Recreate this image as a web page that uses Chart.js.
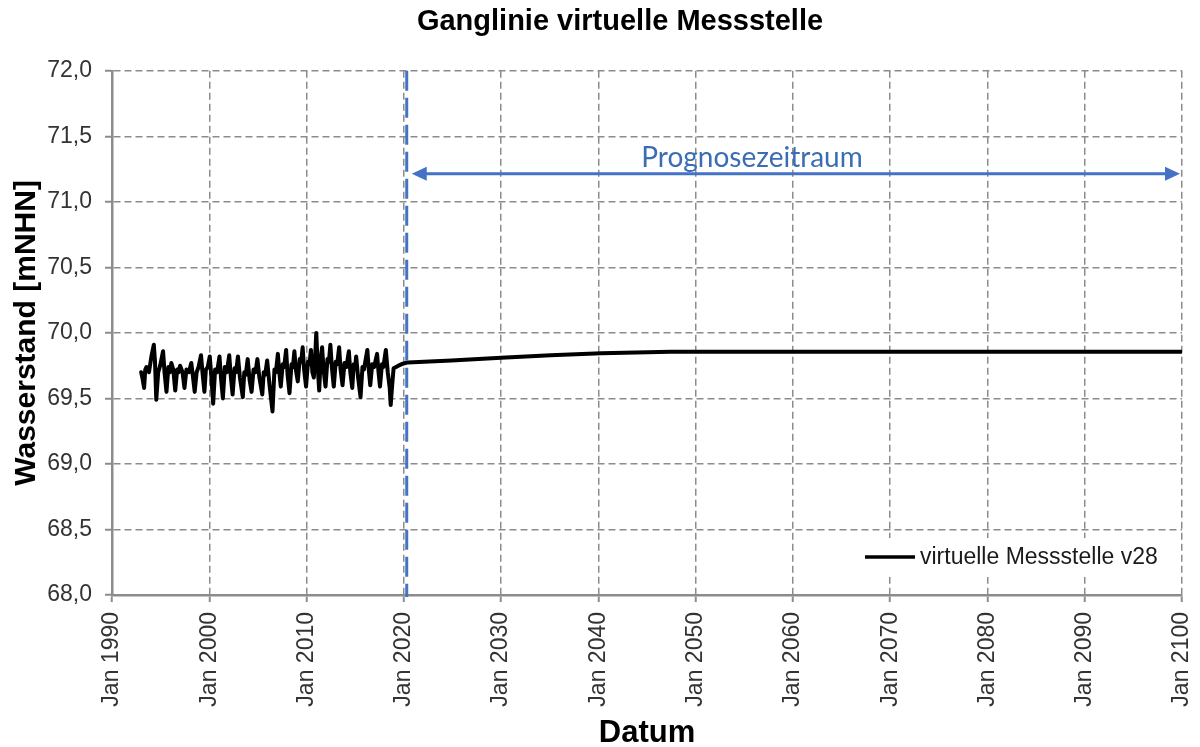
<!DOCTYPE html>
<html>
<head>
<meta charset="utf-8">
<script src="https://cdn.jsdelivr.net/npm/chart.js@4/dist/chart.umd.min.js"></script>
<style>
  html, body { margin: 0; padding: 0; background: #ffffff; }
  #wrap { width: 1200px; height: 747px; position: relative; }
</style>
</head>
<body>
<div id="wrap"><canvas id="c" width="1200" height="747"></canvas></div>
<script>
// ---- data ----
const histYears = [
  1993.00, 1993.12, 1993.30, 1993.42, 1993.55, 1993.80, 1994.05, 1994.30, 1994.42, 1994.55,
  1994.75, 1994.95, 1995.25, 1995.40, 1995.60, 1995.80, 1995.95, 1996.10, 1996.30, 1996.50,
  1996.70, 1996.85, 1997.00, 1997.25, 1997.45, 1997.65, 1997.90, 1998.15, 1998.30, 1998.50,
  1998.70, 1998.90, 1999.15, 1999.30, 1999.50, 1999.65, 1999.85, 2000.05, 2000.20, 2000.40,
  2000.60, 2000.80, 2001.05, 2001.20, 2001.40, 2001.60, 2001.80, 2002.05, 2002.20, 2002.40,
  2002.60, 2002.75, 2002.95, 2003.15, 2003.45, 2003.60, 2003.75, 2003.95, 2004.15, 2004.35,
  2004.55, 2004.75, 2004.95, 2005.15, 2005.45, 2005.60, 2005.75, 2005.95, 2006.20, 2006.50,
  2006.70, 2006.85, 2007.05, 2007.20, 2007.35, 2007.55, 2007.70, 2007.90, 2008.05, 2008.25,
  2008.45, 2008.60, 2008.75, 2008.90, 2009.10, 2009.30, 2009.45, 2009.60, 2009.75, 2009.95,
  2010.15, 2010.30, 2010.45, 2010.60, 2010.75, 2010.90, 2011.00, 2011.15, 2011.30, 2011.45,
  2011.60, 2011.75, 2011.95, 2012.15, 2012.30, 2012.45, 2012.60, 2012.80, 2013.00, 2013.15,
  2013.35, 2013.50, 2013.70, 2013.90, 2014.10, 2014.35, 2014.50, 2014.70, 2014.85, 2015.00,
  2015.10, 2015.30, 2015.55, 2015.75, 2015.90, 2016.25, 2016.40, 2016.55, 2016.75, 2016.95,
  2017.25, 2017.40, 2017.55, 2017.75, 2017.90, 2018.15, 2018.35, 2018.55, 2018.65, 2018.80,
  2018.95, 2019.45, 2019.90];
const histLevels = [
  69.70, 69.66, 69.58, 69.72, 69.74, 69.70, 69.82, 69.91, 69.78, 69.49,
  69.70, 69.75, 69.86, 69.70, 69.55, 69.74, 69.70, 69.77, 69.72, 69.56,
  69.72, 69.70, 69.75, 69.70, 69.58, 69.72, 69.70, 69.77, 69.68, 69.55,
  69.70, 69.74, 69.83, 69.70, 69.55, 69.72, 69.74, 69.82, 69.68, 69.46,
  69.72, 69.70, 69.82, 69.66, 69.50, 69.74, 69.70, 69.83, 69.68, 69.53,
  69.73, 69.70, 69.82, 69.66, 69.51, 69.70, 69.68, 69.80, 69.64, 69.55,
  69.72, 69.70, 69.80, 69.66, 69.53, 69.70, 69.68, 69.79, 69.60, 69.40,
  69.72, 69.70, 69.84, 69.70, 69.59, 69.76, 69.74, 69.87, 69.68, 69.54,
  69.76, 69.74, 69.86, 69.72, 69.63, 69.80, 69.78, 69.89, 69.72, 69.59,
  69.78, 69.76, 69.87, 69.70, 69.66, 69.84, 70.00, 69.74, 69.56, 69.80,
  69.89, 69.72, 69.59, 69.80, 69.78, 69.91, 69.74, 69.59, 69.78, 69.76,
  69.89, 69.72, 69.60, 69.77, 69.74, 69.86, 69.70, 69.58, 69.76, 69.74,
  69.82, 69.66, 69.51, 69.74, 69.72, 69.87, 69.72, 69.60, 69.76, 69.74,
  69.84, 69.70, 69.59, 69.76, 69.74, 69.87, 69.70, 69.58, 69.45, 69.60,
  69.73, 69.75, 69.765];
const progYears = [2020.4, 2024.9, 2030.0, 2035.1, 2040.3, 2047.4, 2060.0, 2080.0, 2100.0];
const progLevels = [69.775, 69.79, 69.81, 69.83, 69.845, 69.856, 69.856, 69.856, 69.856];

const seriesLabel = 'virtuelle Messstelle v28';
const yTicksMin = 68.0, yTicksMax = 72.0, yStep = 0.5;
const xTicksMin = 1990, xTicksMax = 2100, xStep = 10;
const prognoseStart = 2020.3;
const prognoseLevel = 71.214;
const prognoseText = 'Prognosezeitraum';

const points = histYears.map((x, i) => ({ x: x, y: histLevels[i] }))
  .concat(progYears.map((x, i) => ({ x: x, y: progLevels[i] })));

const gridColor = '#8c8c8c';
const blue = '#4472C4';
const FONT = '"Liberation Sans", Arial, sans-serif';

const overlay = {
  id: 'overlay',
  afterLayout(chart) {
    // centre the title like the reference (slightly right of canvas centre)
    if (chart.titleBlock) { chart.titleBlock.left = 58; chart.titleBlock.right = 1182; }
  },
  beforeDatasetsDraw(chart) {
    const { ctx } = chart;
    ctx.save();
    ctx.fillStyle = '#ffffff';
    ctx.fillRect(856, 538, 320, 39);
    ctx.restore();
  },
  afterDatasetsDraw(chart) {
    const { ctx, chartArea: a, scales: { x, y } } = chart;
    ctx.save();
    // vertical dashed line at forecast start
    const px = x.getPixelForValue(prognoseStart);
    ctx.strokeStyle = blue;
    ctx.lineWidth = 3;
    ctx.setLineDash([20, 7]);
    ctx.beginPath();
    ctx.moveTo(px, a.top);
    ctx.lineTo(px, a.bottom + 2);
    ctx.stroke();
    ctx.setLineDash([]);
    // double arrow
    const py = y.getPixelForValue(prognoseLevel);
    const x1 = px + 5, x2 = a.right - 2;
    ctx.lineWidth = 3;
    ctx.beginPath();
    ctx.moveTo(x1 + 10, py);
    ctx.lineTo(x2 - 10, py);
    ctx.stroke();
    ctx.fillStyle = blue;
    ctx.beginPath();
    ctx.moveTo(x1, py); ctx.lineTo(x1 + 15, py - 7); ctx.lineTo(x1 + 15, py + 7); ctx.closePath(); ctx.fill();
    ctx.beginPath();
    ctx.moveTo(x2, py); ctx.lineTo(x2 - 15, py - 7); ctx.lineTo(x2 - 15, py + 7); ctx.closePath(); ctx.fill();
    // label
    ctx.font = '28px Lato, "Open Sans", sans-serif';
    ctx.textAlign = 'center';
    ctx.textBaseline = 'middle';
    ctx.fillStyle = '#3b6db5';
    ctx.fillText(prognoseText, 752, py - 16);
    // legend
    ctx.strokeStyle = '#000000';
    ctx.lineWidth = 3.5;
    ctx.beginPath();
    ctx.moveTo(865, 557);
    ctx.lineTo(915, 557);
    ctx.stroke();
    ctx.font = '23px ' + FONT;
    ctx.textAlign = 'left';
    ctx.fillStyle = '#1a1a1a';
    ctx.fillText(chart.data.datasets[0].label, 920, 558);
    ctx.restore();
  }
};

new Chart(document.getElementById('c'), {
  type: 'line',
  data: {
    datasets: [{
      label: seriesLabel,
      data: points,
      borderColor: '#000000',
      borderWidth: 4,
      pointRadius: 0,
      tension: 0,
      fill: false,
      borderJoinStyle: 'round',
      borderCapStyle: 'round'
    }]
  },
  options: {
    responsive: false,
    animation: false,
    layout: { padding: { left: 0, right: 18, top: 0, bottom: 0 } },
    plugins: {
      legend: { display: false },
      tooltip: { enabled: false },
      title: {
        display: true,
        text: 'Ganglinie virtuelle Messstelle',
        color: '#000000',
        font: { family: FONT, size: 29, weight: 'bold', lineHeight: 1.2 },
        padding: { top: 5, bottom: 31 }
      }
    },
    scales: {
      x: {
        type: 'linear',
        min: xTicksMin, max: xTicksMax,
        afterFit(scale) { scale.height = 152; scale.paddingLeft = 0; scale.paddingRight = 0; },
        ticks: {
          stepSize: xStep,
          minRotation: 90, maxRotation: 90,
          padding: 10,
          color: '#333333',
          font: { family: FONT, size: 23 },
          callback: (v) => 'Jan ' + v
        },
        grid: { color: gridColor, lineWidth: 1.5, tickLength: 7, tickColor: gridColor, tickWidth: 2 },
        border: { display: true, color: gridColor, width: 2.5, dash: [7, 4] },
        title: {
          display: true, text: 'Datum', color: '#000000',
          font: { family: FONT, size: 31, weight: 'bold', lineHeight: 0.9 },
          padding: { top: 0, bottom: 0 }
        }
      },
      y: {
        type: 'linear',
        min: yTicksMin, max: yTicksMax,
        afterFit(scale) { scale.width = 112; },
        ticks: {
          stepSize: yStep,
          padding: 13,
          color: '#333333',
          font: { family: FONT, size: 23 },
          callback: (v) => Number(v).toFixed(1).replace('.', ',')
        },
        grid: { color: gridColor, lineWidth: 1.5, tickLength: 7, tickColor: gridColor, tickWidth: 2 },
        border: { display: true, color: gridColor, width: 2.5, dash: [7, 4] },
        title: {
          display: true, text: 'Wasserstand [mNHN]', color: '#000000',
          font: { family: FONT, size: 30, weight: 'bold', lineHeight: 1.2 },
          padding: { top: 9, bottom: 0 }
        }
      }
    }
  },
  plugins: [overlay]
});
</script>
</body>
</html>
